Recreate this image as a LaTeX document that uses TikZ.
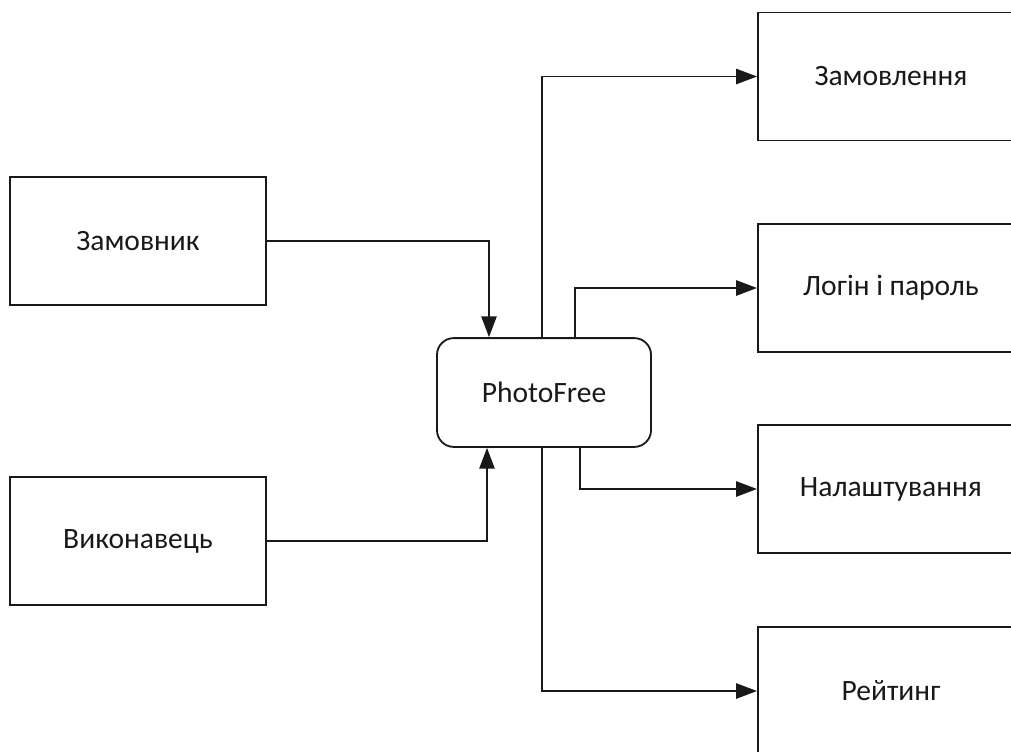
\documentclass[tikz,border=0pt]{standalone}
\usepackage{fontspec}
\setmainfont{Carlito}
\usetikzlibrary{calc,arrows.meta,positioning}

\tikzset{
  entity/.style={draw,rectangle,line width=1.3pt,minimum width=6.4cm,minimum height=3.2cm,
    font=\fontsize{21}{25}\selectfont},
  target/.style={entity,minimum width=7.2cm},
  hub/.style={draw,rectangle,rounded corners=0.42cm,line width=1.3pt,minimum width=5.35cm,
    minimum height=2.72cm,font=\fontsize{21}{25}\selectfont},
  flow/.style={line width=1.3pt,-{Triangle[length=0.52cm,width=0.38cm]}}
}

\begin{document}
\begin{tikzpicture}[x=0.025cm,y=-0.025cm,black!90]
\useasboundingbox (0,0) rectangle (1011,751);
\clip (0,0) rectangle (1011,751);

\node[target,anchor=west] (zamovlennya) at (757,76.5) {\hspace*{-0.55cm}Замовлення};
\node[target,anchor=west] (login) at (757,288) {\hspace*{-0.55cm}Логін і пароль};
\node[target,anchor=west] (nalashtuvannya) at (757,489) {\hspace*{-0.55cm}Налаштування};
\node[target,anchor=west] (reytyng) at (757,691) {\hspace*{-0.55cm}Рейтинг};

\node[entity] (zamovnyk) at (138,241) {Замовник};
\node[entity] (vykonavets) at (138,541) {Виконавець};
\node[hub] (photofree) at (544,392.5) {PhotoFree};

\draw[flow] (zamovnyk) -| ($(photofree.north)+(-55,0)$);
\draw[flow] (vykonavets) -| ($(photofree.south)+(-57,0)$);

\draw[flow] ($(photofree.north)+(-2,0)$) |- (zamovlennya);
\draw[flow] ($(photofree.north)+(31,0)$) |- (login);
\draw[flow] ($(photofree.south)+(36,0)$) |- (nalashtuvannya);
\draw[flow] ($(photofree.south)+(-2,0)$) |- (reytyng);
\end{tikzpicture}
\end{document}
